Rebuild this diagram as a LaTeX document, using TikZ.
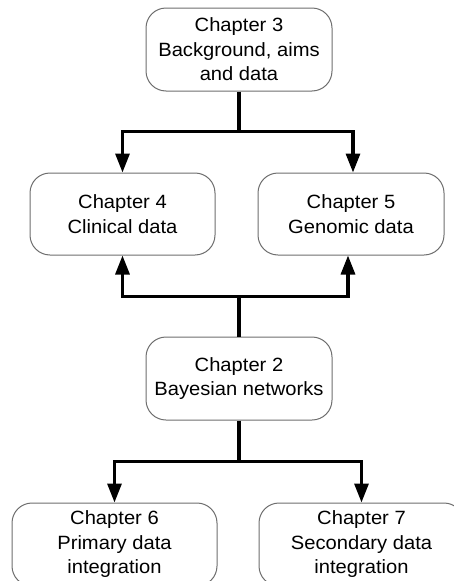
\documentclass[tikz,border=0pt]{standalone}
\usepackage{fontspec}
\setmainfont{Liberation Sans}[FakeStretch=1.05]
\usetikzlibrary{arrows.meta}

\definecolor{boxline}{RGB}{110,110,110}

\tikzset{
  chapbox/.style={draw=boxline, line width=1pt, rounded corners=20pt,
    fill=white, align=center, inner sep=0pt, minimum height=83pt,
    font=\fontsize{19.2}{24.5}\selectfont},
  narrowbox/.style={chapbox, minimum width=186pt},
  widebox/.style={chapbox, minimum width=205pt},
  conn/.style={line width=3.2pt, black, line join=miter},
  arr/.style={conn, -{Triangle[length=19pt,width=14pt]}}
}

\begin{document}
\begin{tikzpicture}[x=1pt, y=-1pt]
  \useasboundingbox (0,0) rectangle (454,581);

  % chapter boxes
  \node[narrowbox] (ch3) at (239,49.5) {Chapter 3\\Background, aims\\and data};
  \node[narrowbox, minimum width=185pt, minimum height=82pt] (ch4) at (122.5,214) {Chapter 4\\Clinical data};
  \node[narrowbox, minimum height=82pt] (ch5) at (351,214) {Chapter 5\\Genomic data};
  \node[narrowbox] (ch2) at (239,378.5) {Chapter 2\\Bayesian networks};
  \node[widebox] (ch6) at (114.5,544.5) {Chapter 6\\Primary data\\integration};
  \node[widebox] (ch7) at (361.5,544.5) {Chapter 7\\Secondary data\\integration};

  % chapter 3 feeds chapters 4 and 5
  \draw[conn] (ch3.south) -- ++(0,40) coordinate (jtop);
  \draw[arr] (jtop) -| (ch4.north);
  \draw[arr] (jtop) -| ([xshift=2pt]ch5.north);

  % chapter 2 feeds chapters 4 and 5 from below
  \draw[conn] (ch2.north) -- ++(0,-40) coordinate (jmid);
  \draw[arr] (jmid) -| (ch4.south);
  \draw[arr] (jmid) -| ([xshift=-3pt]ch5.south);

  % chapter 2 feeds chapters 6 and 7
  \draw[conn] (ch2.south) -- ++(0,41) coordinate (jbot);
  \draw[arr] (jbot) -| (ch6.north);
  \draw[arr] (jbot) -| (ch7.north);
\end{tikzpicture}
\end{document}
